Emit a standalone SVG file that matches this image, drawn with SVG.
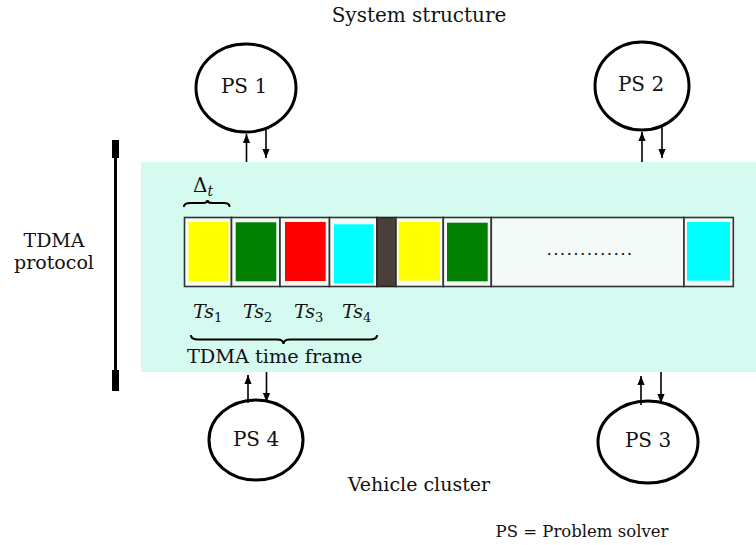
<svg xmlns="http://www.w3.org/2000/svg" width="756" height="545" viewBox="0 0 756 545">
<defs>
<marker id="ah" viewBox="0 0 10 10" refX="10" refY="5" markerWidth="9" markerHeight="9" markerUnits="userSpaceOnUse" orient="auto">
<path d="M0,1 L10,5 L0,9 Z" fill="#000"/>
</marker>
</defs>
<style>
text{font-family:"DejaVu Serif","Liberation Serif",serif;fill:#111;font-size:19px}
.c{text-anchor:middle}
.node{fill:#fff;stroke:#000;stroke-width:3}
.cell{fill:#f3faf7;stroke:#333;stroke-width:1.6}
.arr{stroke:#000;stroke-width:1.6;fill:none;marker-end:url(#ah)}
.brace{stroke:#000;stroke-width:2.2;fill:none;stroke-linecap:round}
.it{font-style:italic}
.sub{font-size:13px}
</style>
<rect width="756" height="545" fill="#fff"/>
<text class="c" x="419" y="22" style="font-size:20px">System structure</text>
<text class="c" x="419" y="491">Vehicle cluster</text>
<text class="c" x="582" y="537" style="font-size:16.5px">PS = Problem solver</text>
<g id="bracket">
<line x1="115.5" y1="140" x2="115.5" y2="391" stroke="#000" stroke-width="3"/>
<rect x="112" y="140" width="7" height="18" fill="#000"/>
<rect x="112" y="370" width="7" height="21" fill="#000"/>
<text class="c" x="54" y="247">TDMA</text>
<text class="c" x="54" y="269">protocol</text>
</g>
<g id="bus">
<rect x="141" y="162" width="615" height="210" fill="#d5faef"/>
</g>
<g id="frame">
<rect class="cell" x="184.5" y="217.5" width="47" height="69"/>
<rect class="cell" x="231.5" y="217.5" width="48.5" height="69"/>
<rect class="cell" x="280" y="217.5" width="49.5" height="69"/>
<rect class="cell" x="329.5" y="217.5" width="47.5" height="69"/>
<rect x="377" y="217.5" width="19" height="69" fill="#4a3f3a" stroke="#222" stroke-width="1.6"/>
<rect class="cell" x="396" y="217.5" width="47.3" height="69"/>
<rect class="cell" x="443.3" y="217.5" width="48" height="69"/>
<rect class="cell" x="491.3" y="217.5" width="192.7" height="69"/>
<rect class="cell" x="684" y="217.5" width="49.3" height="69"/>
<rect x="188.5" y="222" width="40" height="59" fill="#ffff00"/>
<rect x="235.7" y="222.3" width="40.6" height="59" fill="#008000"/>
<rect x="285" y="222" width="40.7" height="59" fill="#ff0000"/>
<rect x="334" y="224.3" width="39.3" height="59" fill="#00ffff"/>
<rect x="398.7" y="222" width="41.3" height="58.7" fill="#ffff00"/>
<rect x="447" y="222.7" width="40.7" height="58.6" fill="#008000"/>
<rect x="687" y="222" width="43" height="58.7" fill="#00ffff"/>
<text class="c" x="590" y="255" style="font-size:17px;letter-spacing:1.3px">.............</text>
</g>
<g id="delta">
<text x="193" y="192" style="font-size:20px">Δ<tspan class="it" style="font-size:14px" dy="4">t</tspan></text>
<path class="brace" d="M184,206 Q185,203 190,203 L203,203 Q207.5,203 207.5,200 Q207.5,203 212,203 L224,203 Q229,203 229.5,206"/>
</g>
<g id="slots">
<text x="193" y="318"><tspan class="it">Ts</tspan><tspan class="sub" dy="4">1</tspan></text>
<text x="243" y="318"><tspan class="it">Ts</tspan><tspan class="sub" dy="4">2</tspan></text>
<text x="294" y="318"><tspan class="it">Ts</tspan><tspan class="sub" dy="4">3</tspan></text>
<text x="342" y="318"><tspan class="it">Ts</tspan><tspan class="sub" dy="4">4</tspan></text>
<path class="brace" d="M191,336 Q192,339.5 198,339.5 L277,339.5 Q283.5,339.5 283.5,344 Q283.5,339.5 290,339.5 L370,339.5 Q376,339.5 377,336"/>
<text x="187" y="363" style="font-size:19.3px">TDMA time frame</text>
</g>
<g id="ps1">
<ellipse class="node" cx="246" cy="88" rx="50" ry="44"/>
<text class="c" x="244" y="93" style="font-size:20px">PS 1</text>
</g>
<g id="ps2">
<ellipse class="node" cx="642" cy="86" rx="47" ry="44"/>
<text class="c" x="641" y="91" style="font-size:20px">PS 2</text>
</g>
<g id="ps4">
<ellipse class="node" cx="256" cy="440" rx="47" ry="40"/>
<text class="c" x="256" y="446" style="font-size:20px">PS 4</text>
</g>
<g id="ps3">
<ellipse class="node" cx="648" cy="442" rx="50" ry="41"/>
<text class="c" x="648" y="447" style="font-size:20px">PS 3</text>
</g>
<g id="connectors">
<line class="arr" x1="246.5" y1="162" x2="246.5" y2="134"/>
<line class="arr" x1="266" y1="130" x2="266" y2="158"/>
<line class="arr" x1="642" y1="162" x2="642" y2="132"/>
<line class="arr" x1="662" y1="127" x2="662" y2="158"/>
<line class="arr" x1="248" y1="403" x2="248" y2="375"/>
<line class="arr" x1="266.5" y1="372" x2="266.5" y2="402"/>
<line class="arr" x1="641" y1="405" x2="641" y2="376"/>
<line class="arr" x1="661" y1="372" x2="661" y2="403"/>
</g>
</svg>
